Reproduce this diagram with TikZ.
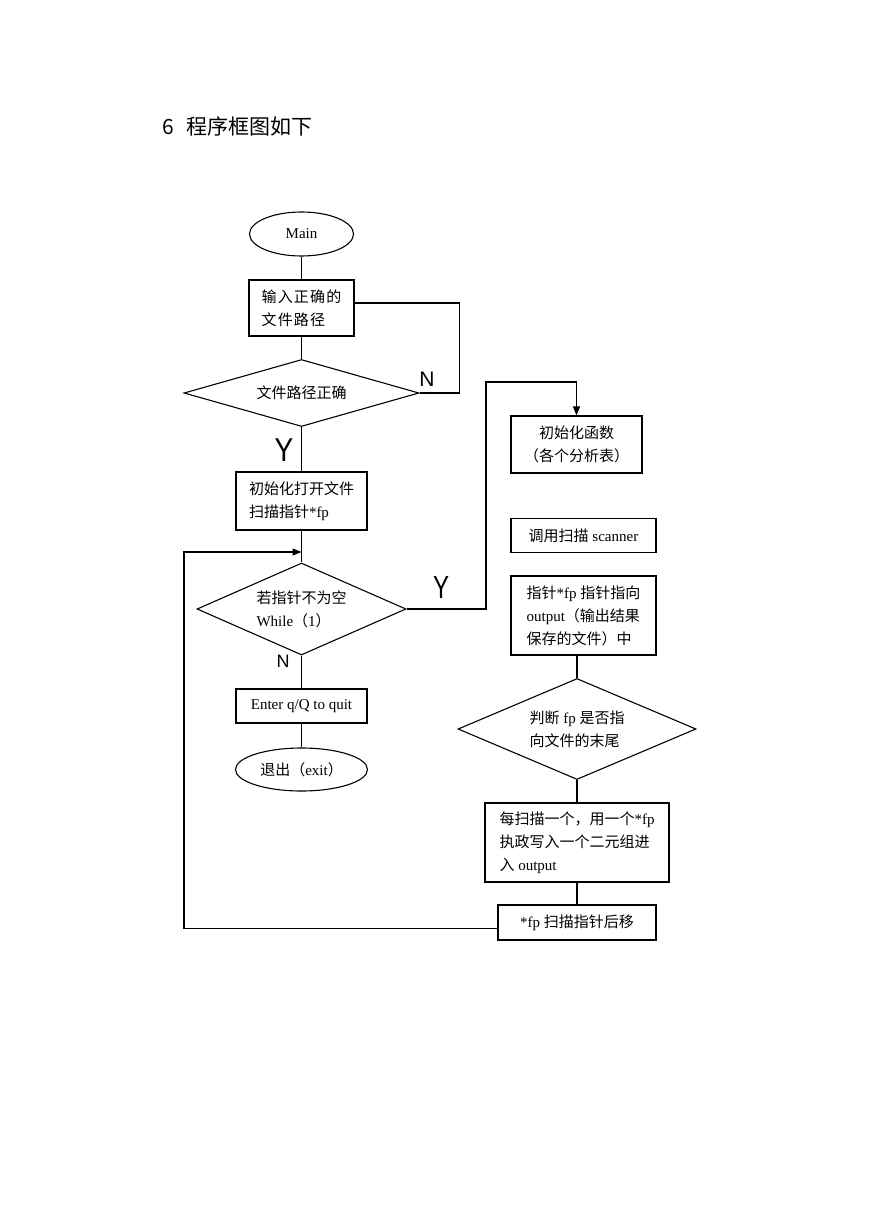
\documentclass[tikz,border=0pt]{standalone}
\usepackage{fontspec}
\setmainfont{Liberation Serif}
\newfontfamily\cjk{Noto Sans CJK SC}
\newfontfamily\cjksp[LetterSpace=8]{Noto Sans CJK SC}
\newfontfamily\sfl{Liberation Sans}
\usetikzlibrary{shapes.geometric,arrows.meta}
\newcommand\zh[1]{{\cjk #1}}
\newcommand\zhs[1]{{\cjksp #1}}
\begin{document}
\begin{tikzpicture}[x=1pt,y=-1pt,line width=1.1pt,
  every node/.style={font=\fontsize{15}{23}\selectfont, inner sep=0pt},
  box/.style={draw, rectangle},
  oval/.style={draw, ellipse},
  dec/.style={draw, diamond},
  arr/.style={-{Triangle[length=9pt,width=7pt]}},
  lab/.style={font=\sfl\fontsize{#1}{#1}\selectfont}]
\fill[white] (0,0) rectangle (869,1228);
\useasboundingbox (0,0) rectangle (869,1228);
% title
\node[anchor=west, font=\cjk\fontsize{21}{25}\selectfont] (title) at (162,126) {6\hspace{12.5pt}程序框图如下};
% left column
\node[oval, minimum width=104pt, minimum height=44pt] (main) at (301.5,234) {Main};
\node[box, minimum width=105pt, minimum height=56pt, align=left] (b1) at (301.5,308) {\zhs{输入正确的}\\\zhs{文件路径}};
\node[dec, aspect=3.5, minimum width=235pt, minimum height=67pt] (d1) at (301.5,393) {\zh{文件路径正确}\hspace{10pt}};
\node[box, minimum width=131pt, minimum height=58pt, align=left] (b2) at (301.5,501) {\zh{初始化打开文件}\\\zh{扫描指针}*fp};
\node[dec, aspect=2.27, minimum width=209pt, minimum height=92pt, align=left] (d2) at (301.5,609) {\zh{若指针不为空}\\While\zh{（}1\zh{）}};
\node[box, minimum width=131pt, minimum height=34pt] (b3) at (301.5,706) {Enter q/Q to quit};
\node[oval, minimum width=132pt, minimum height=43pt] (e2) at (301.5,769.5) {\zh{退出（}exit\zh{）}};
% right column
\node[box, minimum width=131pt, minimum height=57pt, align=center] (r1) at (576.5,444.5) {\zh{初始化函数}\\\zh{（各个分析表）}};
\node[box, minimum width=145pt, minimum height=34pt] (r2) at (583.5,535.5) {\zh{调用扫描} scanner};
\node[box, minimum width=145pt, minimum height=79pt, align=left] (r3) at (583.5,615.5) {\zh{指针}*fp \zh{指针指向}\\output\zh{（输出结果}\\\zh{保存的文件）中}};
\node[dec, aspect=2.34, minimum width=238pt, minimum height=101pt, align=left] (d3) at (577,729) {\zh{判断} fp \zh{是否指}\\\zh{向文件的末尾}};
\node[box, minimum width=184pt, minimum height=79pt, align=left] (r4) at (577,842.5) {\zh{每扫描一个，用一个}*fp\\\zh{执政写入一个二元组进}\\\zh{入} output};
\node[box, minimum width=158pt, minimum height=35pt] (r5) at (577,922.5) {*fp \zh{扫描指针后移}};
% labels
\node[lab=21] (n1) at (427,379) {N};
\node[lab=33] (y1) at (284,450) {\scalebox{0.85}[1]{Y}};
\node[lab=32] (y2) at (441,587) {\scalebox{0.75}[1]{Y}};
\node[lab=18] (n2) at (283,661) {N};
% connectors
\coordinate (lc) at (184,552);
\coordinate (le) at (301.5,552);
\coordinate (rc) at (486,382);
\draw (main) -- (b1);
\draw (b1) -- (d1);
\draw ([yshift=5pt]b1.east) -| ([xshift=40pt]d1.east) -- (d1.east);
\draw (d1) -- (b2);
\draw (b2) -- (d2);
\draw (d2) -- (b3);
\draw (b3) -- (e2);
\draw[arr] ([yshift=-6pt]r5.west) -| (lc) -- (le);
\draw[arr] (d2.east) -| (rc) -| (r1.north);
\draw (d3.north |- r3.south) -- (d3.north);
\draw (d3) -- (r4);
\draw (r4) -- (r5);
\end{tikzpicture}
\end{document}
